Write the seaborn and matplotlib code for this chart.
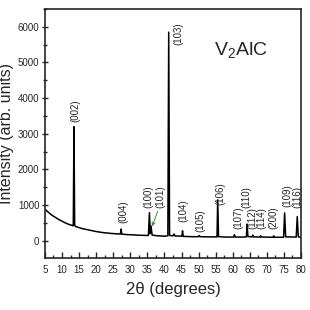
import matplotlib
matplotlib.use('Agg')
import matplotlib.pyplot as plt
from matplotlib.ticker import MultipleLocator
import seaborn as sns
import pandas as pd

# patron XRD (2theta, intensidad)
two_theta = [5, 6, 7, 8, 9, 10, 11, 12, 13, 13.3, 13.5, 13.7, 14, 15, 16, 18, 20, 22, 24, 26,
             27.1, 27.3, 27.5, 29, 31, 33, 35.3, 35.6, 35.85, 36.05, 36.4, 38, 40, 41.0, 41.25,
             41.5, 42.5, 42.8, 43.1, 45.1, 45.3, 45.5, 48, 50.0, 50.2, 50.4, 53, 55.4, 55.6,
             55.85, 58, 60.3, 60.5, 60.7, 63, 64.0, 64.2, 64.45, 65.7, 65.9, 66.1, 68.0, 68.2,
             68.4, 71.8, 72.0, 72.2, 74.9, 75.2, 75.5, 78.6, 78.9, 79.2, 80]
intensity = [880, 800, 720, 660, 600, 550, 500, 460, 430, 420, 3200, 440, 400, 370, 340, 300, 260, 230, 210, 195,
             190, 330, 185, 175, 165, 155, 150, 790, 200, 420, 160, 140, 130, 140, 5850,
             150, 140, 190, 135, 130, 280, 125, 115, 115, 150, 115, 110, 110, 1150,
             115, 105, 105, 170, 105, 105, 110, 470, 120, 110, 160, 110, 105, 140,
             105, 100, 140, 100, 100, 780, 110, 105, 680, 110, 100]

# etiquetas de los picos: texto, x, y (base del texto)
hkl = ['(002)', '(004)', '(100)', '(101)', '(103)', '(104)', '(105)', '(106)', '(107)',
       '(110)', '(112)', '(114)', '(200)', '(109)', '(116)']
hkl_x = [13.8, 27.9, 35.3, 38.8, 44.0, 45.6, 50.6, 56.5, 61.6,
         63.9, 65.7, 68.3, 72.0, 75.9, 78.9]
hkl_y = [3330, 500, 920, 920, 5490, 520, 250, 1000, 330,
         920, 320, 320, 330, 950, 920]

df = pd.DataFrame({'2theta': two_theta, 'I': intensity})

sns.set_style('ticks')
plt.rcParams['font.family'] = ['Liberation Sans', 'DejaVu Sans']
plt.rcParams['mathtext.default'] = 'regular'

fig = plt.figure(figsize=(3.1, 3.1), dpi=100)
ax = fig.add_axes([0.145, 0.168, 0.826, 0.803])

sns.lineplot(data=df, x='2theta', y='I', color='black', linewidth=1.1, ax=ax,
             sort=False, estimator=None)

for t, x, y in zip(hkl, hkl_x, hkl_y):
    ax.text(x, y, t, rotation=90, ha='center', va='bottom', fontsize=7)

# flecha verde del (101)
ax.annotate('', xy=(36.1, 330), xytext=(38.3, 900),
            arrowprops=dict(arrowstyle='-|>', color='#3a9a3a', lw=0.7, mutation_scale=5))

ax.text(62.4, 5350, 'V$_2$AlC', fontsize=14, ha='center', va='center')

ax.set_xlim(5, 80)
ax.set_ylim(-480, 6500)
ax.xaxis.set_major_locator(MultipleLocator(5))
ax.xaxis.set_minor_locator(MultipleLocator(2.5))
ax.yaxis.set_major_locator(MultipleLocator(1000))
ax.yaxis.set_minor_locator(MultipleLocator(500))
ax.tick_params(axis='x', which='both', direction='in', labelsize=7, pad=5)
ax.tick_params(axis='y', which='both', direction='inout', labelsize=7, pad=2)
ax.tick_params(which='major', length=4, width=1)
ax.tick_params(which='minor', length=2.5, width=1)
for s in ax.spines.values():
    s.set_linewidth(1.2)
    s.set_visible(True)

ax.set_xlabel('2θ (degrees)', fontsize=12, labelpad=5)
ax.set_ylabel('Intensity (arb. units)', fontsize=11.5, labelpad=3)

fig.savefig('out.png', dpi=100)
